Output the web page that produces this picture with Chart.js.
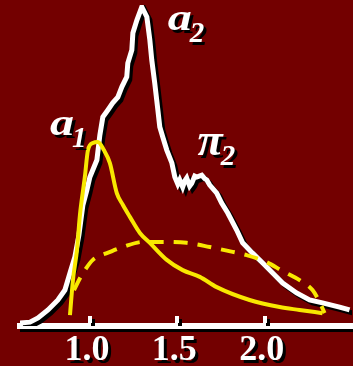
<!DOCTYPE html>
<html>
<head>
<meta charset="utf-8">
<script src="https://cdn.jsdelivr.net/npm/chart.js@4"></script>
<style>
  html, body { margin: 0; padding: 0; background: #730000; }
  #wrap { width: 353px; height: 366px; position: relative; }
</style>
</head>
<body>
<div id="wrap"><canvas id="spectrum"></canvas></div>
<script>
// Measured spectrum (white trace): invariant mass (GeV) vs. relative intensity
const energy = [0.600, 0.657, 0.703, 0.760, 0.817, 0.857, 0.886, 0.914, 0.937, 0.960, 0.983, 1.000,
  1.040, 1.057, 1.074, 1.103, 1.131, 1.160, 1.183, 1.211, 1.217, 1.240, 1.246, 1.269, 1.297,
  1.326, 1.343, 1.354, 1.371, 1.389, 1.400, 1.417, 1.440, 1.469, 1.486, 1.503, 1.514, 1.531, 1.543, 1.554,
  1.571, 1.583, 1.600, 1.611, 1.640, 1.657, 1.669, 1.686, 1.726, 1.754, 1.789, 1.840, 1.874, 1.931, 1.989, 2.046,
  2.103, 2.183, 2.257, 2.331, 2.429, 2.486];
const intensity = [0.9, 1.2, 2.5, 5.0, 8.1, 11.2, 16.5, 21.5, 28.3, 37.7, 42.4, 46.4,
  51.7, 59.5, 65.1, 67.3, 69.5, 71.3, 74.5, 77.6, 81.9, 86.0, 91.3, 95.3, 99.4,
  96.3, 89.1, 82.9, 75.7, 67.3, 62.0, 58.9, 54.8, 50.8, 46.4, 44.2, 45.5, 43.3, 45.2, 46.1,
  43.6, 44.5, 46.7, 46.4, 47.0, 45.9, 45.5, 43.9, 41.4, 38.3, 35.2, 29.9, 25.9, 22.7, 19.6, 16.5,
  13.4, 10.3, 8.1, 7.2, 5.9, 5.0];

// a1 resonance shape (solid yellow)
const a1Mass = [0.886, 0.903, 0.926, 0.943, 0.971, 0.989, 1.017, 1.046, 1.080, 1.114, 1.154,
  1.189, 1.229, 1.286, 1.343, 1.440, 1.531, 1.629, 1.726, 1.914, 2.086, 2.200, 2.331];
const a1Shape = [3.4, 14.3, 23.7, 34.6, 46.4, 54.8, 57.0, 57.3, 54.8, 50.8, 41.4,
  37.7, 34.0, 29.0, 25.9, 20.6, 17.4, 15.3, 12.1, 8.1, 5.9, 5.0, 4.0];

// Phase-space curve (dashed yellow)
const psMass = [0.909, 0.943, 0.971, 1.017, 1.069, 1.097, 1.189, 1.303, 1.417, 1.554, 1.686,
  1.817, 1.897, 2.011, 2.103, 2.200, 2.274, 2.314, 2.343];
const psShape = [11.2, 14.9, 17.4, 20.6, 22.1, 22.7, 24.6, 26.2, 26.2, 25.9, 24.6,
  23.1, 22.1, 19.9, 17.1, 14.3, 11.2, 7.5, 4.0];

// Axis ticks
const tickValues = [1.0, 1.5, 2.0];
const tickLabels = ['1.0', '1.5', '2.0'];

// Peak labels: symbol, subscript, anchor in data units
const peakNames = ['a', 'a', 'π'];
const peakSubs = ['1', '2', '2'];
const peakAtMass = [0.772, 1.445, 1.616];
const peakAtHeight = [59.5, 92.2, 53.3];

const WHITE = '#ffffff';
const YELLOW = '#f8e800';
const SHADOW = '#000000';
const BG = '#730000';

const toPoints = (xs, ys) => xs.map((x, i) => ({ x, y: ys[i] }));

function setShadow(ctx, on) {
  ctx.shadowColor = on ? SHADOW : 'rgba(0,0,0,0)';
  ctx.shadowOffsetX = on ? 3 : 0;
  ctx.shadowOffsetY = on ? 3 : 0;
  ctx.shadowBlur = 0;
}

const slidePlugin = {
  id: 'slide',
  beforeDraw(chart) {
    const ctx = chart.ctx;
    ctx.save();
    setShadow(ctx, false);
    ctx.fillStyle = BG;
    ctx.fillRect(0, 0, chart.width, chart.height);
    ctx.restore();
    // axis line carries a drop shadow
    setShadow(ctx, true);
  },
  beforeDatasetsDraw(chart) {
    const ctx = chart.ctx;
    const xs = chart.scales.x;
    const bottom = chart.chartArea.bottom;
    ctx.save();
    setShadow(ctx, true);
    // inward tick marks
    ctx.strokeStyle = WHITE;
    ctx.lineWidth = 4;
    ctx.lineCap = 'butt';
    xs.ticks.forEach(t => {
      const px = Math.round(xs.getPixelForValue(t.value));
      ctx.beginPath();
      ctx.moveTo(px, bottom - 3);
      ctx.lineTo(px, bottom - 10);
      ctx.stroke();
    });
    // tick labels
    ctx.fillStyle = WHITE;
    ctx.font = 'bold 36px "Liberation Serif", serif';
    ctx.textAlign = 'center';
    ctx.textBaseline = 'alphabetic';
    xs.ticks.forEach(t => {
      const px = xs.getPixelForValue(t.value);
      ctx.fillText(tickLabels[tickValues.indexOf(t.value)], px - 3, bottom + 34);
    });
    ctx.restore();
    setShadow(ctx, false);
  },
  beforeDatasetDraw(chart, args) {
    setShadow(chart.ctx, args.index === 2);
  },
  afterDatasetDraw(chart) {
    setShadow(chart.ctx, false);
  },
  afterDraw(chart) {
    const ctx = chart.ctx;
    const xs = chart.scales.x, ys = chart.scales.y;
    ctx.save();
    setShadow(ctx, true);
    ctx.fillStyle = WHITE;
    ctx.textBaseline = 'alphabetic';
    ctx.textAlign = 'left';
    peakNames.forEach((name, i) => {
      const px = xs.getPixelForValue(peakAtMass[i]);
      const py = ys.getPixelForValue(peakAtHeight[i]);
      const isPi = name === 'π';
      const size = isPi ? 46 : 37;
      ctx.font = `italic bold ${size}px "Liberation Serif", serif`;
      const stretch = isPi ? 1.0 : 1.3;
      const w = ctx.measureText(name).width * stretch;
      ctx.save();
      ctx.translate(px, py);
      ctx.scale(stretch, 1);
      ctx.fillText(name, 0, 0);
      ctx.restore();
      ctx.font = 'italic bold 29px "Liberation Serif", serif';
      ctx.fillText(peakSubs[i], px + w - 2, py + (isPi ? 10 : 12));
    });
    ctx.restore();
  }
};

new Chart(document.getElementById('spectrum'), {
  type: 'line',
  data: {
    datasets: [
      {
        label: 'a1',
        data: toPoints(a1Mass, a1Shape),
        borderColor: YELLOW,
        borderWidth: 4,
        pointRadius: 0,
        cubicInterpolationMode: 'monotone',
        fill: false,
        order: 1
      },
      {
        label: 'phase space',
        data: toPoints(psMass, psShape),
        borderColor: YELLOW,
        borderWidth: 4,
        borderDash: [14, 10],
        pointRadius: 0,
        cubicInterpolationMode: 'monotone',
        fill: false,
        order: 2
      },
      {
        label: 'spectrum',
        data: toPoints(energy, intensity),
        borderColor: WHITE,
        borderWidth: 5,
        borderJoinStyle: 'miter',
        pointRadius: 0,
        tension: 0,
        fill: false,
        order: 3
      }
    ]
  },
  options: {
    responsive: true,
    maintainAspectRatio: false,
    animation: false,
    events: [],
    layout: { padding: { left: 20, right: 1, top: 5, bottom: 40 } },
    plugins: { legend: { display: false }, tooltip: { enabled: false } },
    scales: {
      x: {
        type: 'linear',
        min: 0.6,
        max: 2.5,
        afterBuildTicks: (scale) => { scale.ticks = tickValues.map(v => ({ value: v })); },
        grid: { display: false, drawTicks: false },
        border: { display: true, color: WHITE, width: 6 },
        ticks: { display: false }
      },
      y: {
        display: false,
        min: 0,
        max: 100
      }
    }
  },
  plugins: [slidePlugin]
});
</script>
</body>
</html>
